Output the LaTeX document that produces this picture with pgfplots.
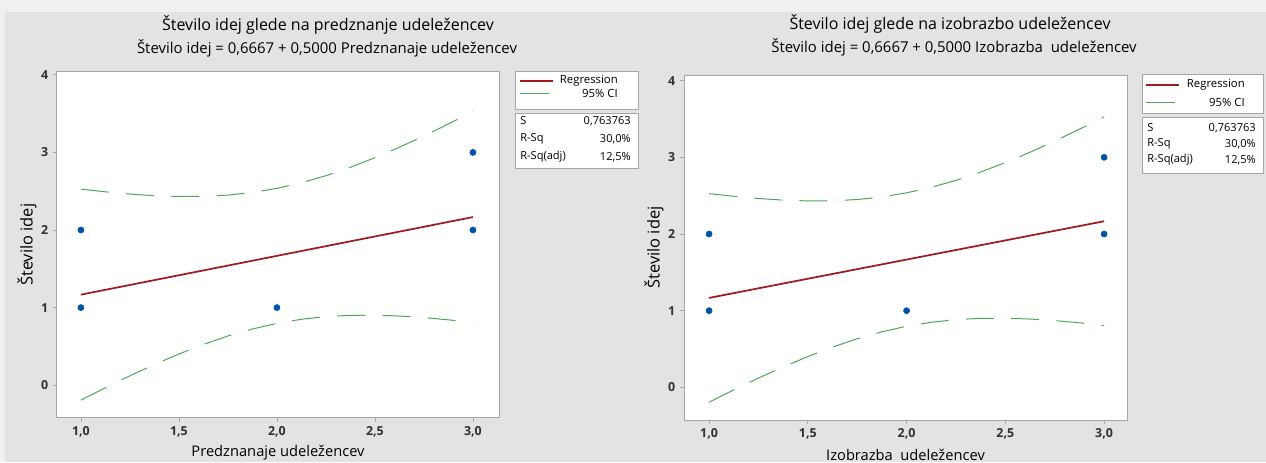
\documentclass[border=0pt]{standalone}
\usepackage{fontspec}
\setmainfont{Open Sans}
\usepackage{pgfplots}
\usepackage{pgfplotstable}
\pgfplotsset{compat=1.18}

\definecolor{outerbg}{HTML}{F0F0F0}
\definecolor{panelbg}{HTML}{E3E3E3}
\definecolor{framegray}{HTML}{A6A6A6}
\definecolor{regred}{HTML}{9E1B22}
\definecolor{cigreen}{HTML}{4DA85A}
\definecolor{ptblue}{HTML}{0054A6}
\definecolor{ticktext}{HTML}{303030}

% regression data (Minitab fitted line plot)
\pgfplotstableread{
x y
1 1
1 2
2 1
3 2
3 3
}\points

\pgfplotstableread{
x fit
1 1.1667
3 2.1667
}\fitline

\pgfplotstableread{
x up low
1.000 2.527 -0.193
1.125 2.492 -0.033
1.250 2.463 0.121
1.375 2.442 0.266
1.500 2.432 0.402
1.625 2.434 0.525
1.750 2.450 0.634
1.875 2.484 0.724
2.000 2.537 0.797
2.125 2.609 0.849
2.250 2.700 0.884
2.375 2.809 0.900
2.500 2.932 0.902
2.625 3.067 0.891
2.750 3.213 0.871
2.875 3.367 0.842
3.000 3.527 0.807
}\ci

\tikzset{
  regstyle/.style={regred, line width=1.3pt},
  cistyle/.style={cigreen, line width=0.75pt, dash pattern=on 21pt off 13pt},
}

\pgfplotsset{
  mtb/.style={
    scale only axis, anchor=south west,
    axis background/.style={fill=white},
    axis line style={framegray, line width=0.75pt},
    tick style={framegray, line width=0.6pt},
    tick align=outside, major tick length=3pt,
    xtick pos=bottom, ytick pos=left,
    xtick={1,1.5,2,2.5,3},
    xticklabels={{1,0},{1,5},{2,0},{2,5},{3,0}},
    ytick={0,1,2,3,4},
    yticklabels={0,1,2,3,4},
    ticklabel style={font=\fontsize{9.3}{11}\selectfont\bfseries, text=ticktext},
    xlabel style={font=\fontsize{11}{13}\selectfont, at={(axis description cs:0.5,-0.102)}, anchor=center},
    ylabel style={font=\fontsize{12.3}{14}\selectfont, at={(axis description cs:-0.068,0.5)}, anchor=center},
    ylabel={Število idej},
  },
}

\begin{document}
\begin{tikzpicture}
\fill[outerbg] (0,0) rectangle (949.5pt,-346.5pt);
\fill[panelbg] (3.75pt,-9pt) rectangle (949.5pt,-346.5pt);
\useasboundingbox (0,0) rectangle (949.5pt,-346.5pt);

% left panel
\begin{axis}[mtb, at={(42.75pt,-313.3pt)}, width=331.5pt, height=259.5pt,
  xmin=0.878, xmax=3.133, ymin=-0.42, ymax=4.04,
  xlabel={Predznanaje udeležencev}]
\addplot[cistyle] table[x=x, y=up] {\ci};
\addplot[cistyle] table[x=x, y=low] {\ci};
\addplot[regstyle] table[x=x, y=fit] {\fitline};
\addplot[only marks, mark=*, mark size=2.3pt, ptblue] table {\points};
\end{axis}

% right panel
\begin{axis}[mtb, at={(513pt,-315pt)}, width=332.25pt, height=258.75pt,
  xmin=0.873, xmax=3.116, ymin=-0.426, ymax=4.074,
  xlabel={Izobrazba\ \ udeležencev}]
\addplot[cistyle] table[x=x, y=up] {\ci};
\addplot[cistyle] table[x=x, y=low] {\ci};
\addplot[regstyle] table[x=x, y=fit] {\fitline};
\addplot[only marks, mark=*, mark size=2.3pt, ptblue] table {\points};
\end{axis}

\begin{scope}[x=0.75pt, y=-0.75pt]
  % titles
  \node[anchor=base, inner sep=0, font=\fontsize{12}{14}\selectfont] at (328,30) {Število idej glede na predznanje udeležencev};
  \node[anchor=base, inner sep=0, font=\fontsize{11.2}{13}\selectfont] at (327,53) {Število idej = 0,6667 + 0,5000 Predznanaje udeležencev};
  \node[anchor=base, inner sep=0, font=\fontsize{12}{14}\selectfont] at (950,29) {Število idej glede na izobrazbo udeležencev};
  \node[anchor=base, inner sep=0, font=\fontsize{11.2}{13}\selectfont] at (954,52) {Število idej = 0,6667 + 0,5000 Izobrazba\ \ udeležencev};

  % left legend
  \draw[framegray, fill=white, line width=0.75pt] (515,71) rectangle (638,109);
  \draw[regstyle] (520,81) -- (553,81);
  \draw[cigreen, line width=0.75pt] (520,93) -- (549,93);
  \begin{scope}[every node/.style={inner sep=0, font=\fontsize{8.5}{10}\selectfont}]
    \node[anchor=east] at (618,81) {Regression};
    \node[anchor=east] at (618,93) {95\% CI};
  \end{scope}
  \draw[framegray, fill=white, line width=0.75pt] (515,113) rectangle (638,168);
  \begin{scope}[every node/.style={inner sep=0, font=\fontsize{8.3}{10}\selectfont}]
    \node[anchor=west] at (520,121) {S};
    \node[anchor=east] at (631,121) {0,763763};
    \node[anchor=west] at (520,139) {R-Sq};
    \node[anchor=east] at (631,139) {30,0\%};
    \node[anchor=west] at (520,157) {R-Sq(adj)};
    \node[anchor=east] at (631,157) {12,5\%};
  \end{scope}

  % right legend
  \draw[framegray, fill=white, line width=0.75pt] (1142,74) rectangle (1263,113);
  \draw[regstyle] (1146,85) -- (1179,85);
  \draw[cigreen, line width=0.75pt] (1146,102) -- (1175,102);
  \begin{scope}[every node/.style={inner sep=0, font=\fontsize{8.5}{10}\selectfont}]
    \node[anchor=east] at (1245,85) {Regression};
    \node[anchor=east] at (1245,102) {95\% CI};
  \end{scope}
  \draw[framegray, fill=white, line width=0.75pt] (1142,117) rectangle (1263,173);
  \begin{scope}[every node/.style={inner sep=0, font=\fontsize{8.3}{10}\selectfont}]
    \node[anchor=west] at (1147,128) {S};
    \node[anchor=east] at (1256,128) {0,763763};
    \node[anchor=west] at (1147,144) {R-Sq};
    \node[anchor=east] at (1256,144) {30,0\%};
    \node[anchor=west] at (1147,160) {R-Sq(adj)};
    \node[anchor=east] at (1256,160) {12,5\%};
  \end{scope}
\end{scope}
\end{tikzpicture}
\end{document}
